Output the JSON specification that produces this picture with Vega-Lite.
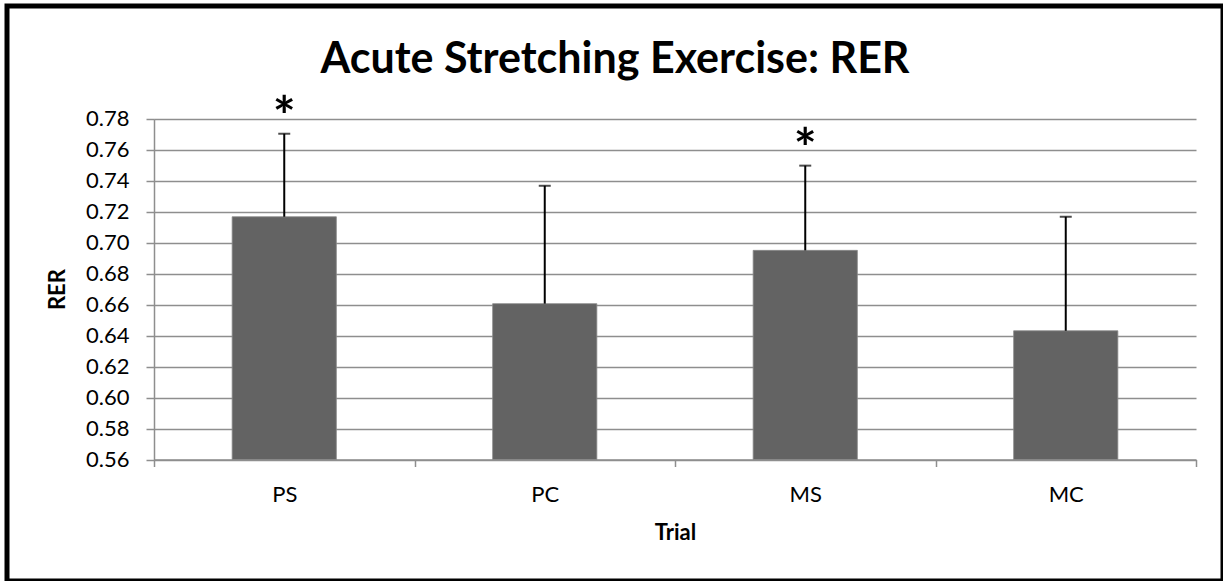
{
  "$schema": "https://vega.github.io/schema/vega-lite/v6.json",
  "autosize": {"type": "none"},
  "padding": {"left": 7, "top": 6, "right": 0, "bottom": 0},
  "width": 1216,
  "height": 575,
  "background": "white",
  "title": {
    "text": "Acute Stretching Exercise: RER",
    "font": "Lato",
    "fontSize": 43,
    "fontWeight": "bold",
    "color": "black",
    "anchor": "middle",
    "frame": "group",
    "baseline": "alphabetic",
    "offset": -110
  },
  "data": {
    "values": [
      {"Trial": "PS", "RER": 0.7167, "upper": 0.7703, "sig": "*"},
      {"Trial": "PC", "RER": 0.6606, "upper": 0.7367, "sig": ""},
      {"Trial": "MS", "RER": 0.6950, "upper": 0.7497, "sig": "*"},
      {"Trial": "MC", "RER": 0.6431, "upper": 0.7167, "sig": ""}
    ]
  },
  "encoding": {
    "x": {
      "field": "Trial",
      "type": "nominal",
      "sort": ["PS", "PC", "MS", "MC"],
      "scale": {"range": [147, 1189], "paddingInner": 0, "paddingOuter": 0},
      "axis": {
        "title": "Trial",
        "labelAngle": 0,
        "tickBand": "extent",
        "offset": -121.5,
        "tickSize": 7,
        "labelPadding": 18,
        "titlePadding": 17,
        "grid": false
      }
    }
  },
  "layer": [
    {
      "mark": {"type": "bar", "color": "#636363", "width": {"band": 0.4}, "stroke": "#8a8a8a", "strokeWidth": 0.8},
      "encoding": {
        "y": {
          "field": "RER",
          "type": "quantitative",
          "scale": {"domain": [0.56, 0.78], "range": [453.5, 112.7], "nice": false, "zero": false},
          "axis": {
            "title": "RER",
            "values": [0.56, 0.58, 0.6, 0.62, 0.64, 0.66, 0.68, 0.7, 0.72, 0.74, 0.76, 0.78],
            "format": ".2f",
            "offset": -147,
            "tickSize": 8,
            "labelPadding": 17,
            "titlePadding": 16,
            "labelFlush": false,
            "grid": true
          }
        },
        "y2": {"datum": 0.56}
      }
    },
    {
      "mark": {"type": "rule", "color": "black", "strokeWidth": 2},
      "encoding": {
        "y": {"field": "RER", "type": "quantitative"},
        "y2": {"field": "upper"}
      }
    },
    {
      "mark": {"type": "tick", "color": "black", "thickness": 2, "size": 12, "orient": "horizontal"},
      "encoding": {
        "y": {"field": "upper", "type": "quantitative"}
      }
    },
    {
      "mark": {"type": "text", "font": "Lato", "fontSize": 54, "fontWeight": "bold", "color": "black", "baseline": "alphabetic", "dy": 1},
      "encoding": {
        "y": {"field": "upper", "type": "quantitative"},
        "text": {"field": "sig"}
      }
    }
  ],
  "config": {
    "view": {"stroke": "black", "strokeWidth": 5},
    "axis": {
      "labelFont": "Lato",
      "labelFontSize": 22,
      "labelColor": "black",
      "titleFont": "Lato",
      "titleFontSize": 22,
      "titleFontWeight": "bold",
      "titleColor": "black",
      "domainColor": "#8e8e8e",
      "domainWidth": 1.5,
      "tickColor": "#8e8e8e",
      "tickWidth": 1.5,
      "gridColor": "#8e8e8e",
      "gridWidth": 1.5
    }
  }
}
